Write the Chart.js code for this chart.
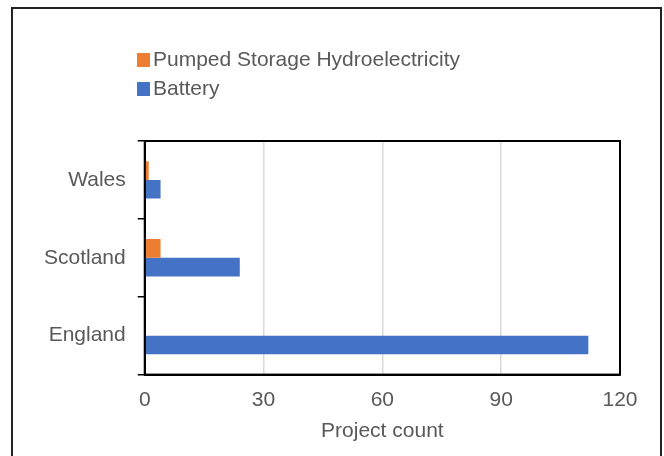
<!DOCTYPE html>
<html>
<head>
<meta charset="utf-8">
<script src="https://cdn.jsdelivr.net/npm/chart.js"></script>
<style>
html, body { margin: 0; padding: 0; background: #fff; }
#wrap { position: relative; width: 664px; height: 456px; overflow: hidden; }
#frame {
  position: absolute; left: 11px; top: 7px; width: 651px; height: 470px;
  border: 2px solid #222; pointer-events: none; box-sizing: border-box;
}
</style>
</head>
<body>
<div id="wrap">
  <canvas id="chart" width="664" height="456"></canvas>
  <div id="frame"></div>
</div>
<script>
// values
const regions = ['Wales', 'Scotland', 'England'];
const pumpedStorage = [1, 4, 0];
const battery = [4, 24, 112];
const xTicks = [0, 30, 60, 90, 120];

const FONT = "'Liberation Sans', Arial, sans-serif";
const GREY_TEXT = '#595959';

// stacked legend in the top-left, one entry per row
const stackedLegend = {
  id: 'stackedLegend',
  afterDraw(chart) {
    const ctx = chart.ctx;
    const x = 137, y0 = 60, rowGap = 29, box = 13;
    ctx.save();
    ctx.font = '21px ' + FONT;
    ctx.textBaseline = 'middle';
    ctx.textAlign = 'left';
    chart.data.datasets.forEach((ds, i) => {
      const y = y0 + i * rowGap;
      ctx.fillStyle = ds.backgroundColor;
      ctx.fillRect(x, y - 7, box, box + 1);
      ctx.fillStyle = GREY_TEXT;
      ctx.fillText(ds.label, x + box + 3, y);
    });
    ctx.restore();
  }
};

// black box round the plot area
const plotBorder = {
  id: 'plotBorder',
  afterDraw(chart) {
    const { ctx, chartArea: a } = chart;
    ctx.save();
    ctx.strokeStyle = '#000';
    ctx.lineWidth = 2;
    ctx.strokeRect(a.left, a.top, a.right - a.left, a.bottom - a.top);
    ctx.restore();
  }
};

new Chart(document.getElementById('chart'), {
  type: 'bar',
  data: {
    labels: regions,
    datasets: [
      {
        label: 'Pumped Storage Hydroelectricity',
        data: pumpedStorage,
        backgroundColor: '#ED7D31'
      },
      {
        label: 'Battery',
        data: battery,
        backgroundColor: '#4472C4'
      }
    ]
  },
  options: {
    indexAxis: 'y',
    responsive: false,
    animation: false,
    datasets: {
      bar: { categoryPercentage: 0.48, barPercentage: 1.0 }
    },
    layout: {
      padding: { left: 32, right: 44, top: 141, bottom: 12 }
    },
    plugins: {
      legend: { display: false },
      tooltip: { enabled: false }
    },
    scales: {
      x: {
        min: 0,
        max: 120,
        afterBuildTicks(scale) {
          scale.ticks = xTicks.map(v => ({ value: v }));
        },
        grid: {
          color: '#d9d9d9',
          lineWidth: 1.5,
          drawTicks: false
        },
        border: { color: '#000', width: 2 },
        ticks: {
          padding: 13,
          color: GREY_TEXT,
          font: { family: FONT, size: 21 }
        },
        title: {
          display: true,
          text: 'Project count',
          color: GREY_TEXT,
          font: { family: FONT, size: 21 },
          padding: { top: -7, bottom: 0 }
        }
      },
      y: {
        grid: {
          drawOnChartArea: false,
          drawTicks: true,
          tickLength: 7,
          color: '#000',
          lineWidth: 1.5
        },
        border: { color: '#000', width: 2 },
        ticks: {
          padding: 12,
          color: GREY_TEXT,
          font: { family: FONT, size: 21 }
        }
      }
    }
  },
  plugins: [stackedLegend, plotBorder]
});
</script>
</body>
</html>
